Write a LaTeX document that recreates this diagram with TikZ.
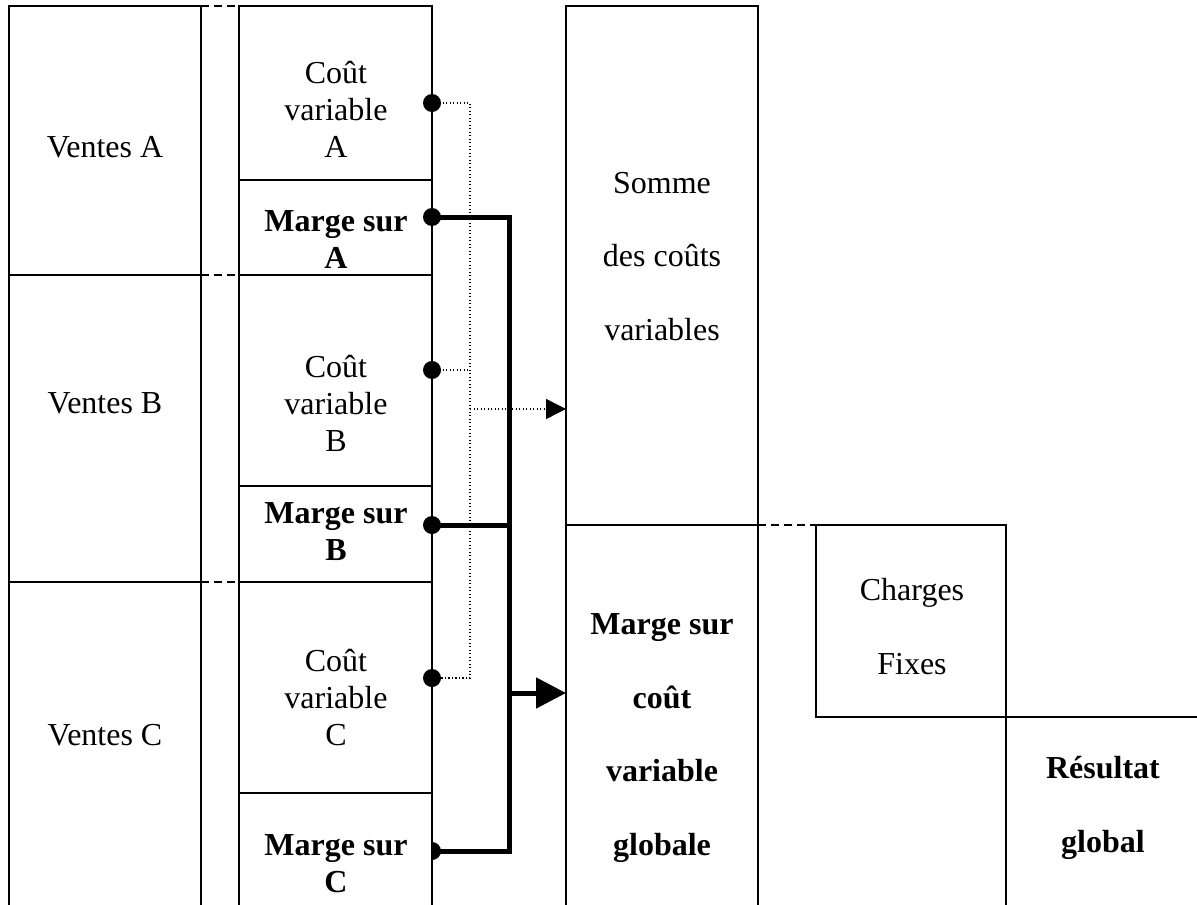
\documentclass[tikz,border=0pt]{standalone}
\usepackage{fontspec}
\setmainfont{Liberation Serif}
\usetikzlibrary{arrows.meta}
\begin{document}
\begin{tikzpicture}[x=1pt,y=-1pt,
  frame/.style={line width=1.8pt, line cap=rect},
  dashlink/.style={line width=1.8pt, dash pattern=on 8pt off 5pt},
  dotlink/.style={line width=1.4pt, dash pattern=on 1.4pt off 2.1pt},
  thicklink/.style={line width=5pt},
  bigdot/.style={fill=black},
  txt/.style={inner sep=0pt, anchor=base, align=center, font=\fontsize{32}{37}\selectfont},
  txtb/.style={txt, font=\fontsize{32}{37}\selectfont\bfseries},
  wtxt/.style={txt, font=\fontsize{32}{73.5}\selectfont},
  wtxtb/.style={txt, font=\fontsize{32}{73.5}\selectfont\bfseries},
  thintip/.style={-{Triangle[length=20pt,width=20pt]}},
  bigtip/.style={-{Triangle[length=30pt,width=30pt]}}
]
\useasboundingbox (0,0) rectangle (1197,905);

% column 1 : Ventes
\draw[frame] (9,905) -- (9,6) -- (201,6) -- (201,905);
\draw[frame] (9,275) -- (201,275);
\draw[frame] (9,582) -- (201,582);
% column 2
\draw[frame] (239,905) -- (239,6) -- (432,6) -- (432,905);
\foreach \yy in {180,275,486,582,793} \draw[frame] (239,\yy) -- (432,\yy);
% dashed links col1-col2
\foreach \yy in {6,275,582} \draw[dashlink] (201,\yy) -- (239,\yy);
% column 3
\draw[frame] (566,905) -- (566,6) -- (758,6) -- (758,905);
\draw[frame] (566,525) -- (758,525);
\draw[dashlink] (758,525) -- (816,525);
% charges fixes and result
\draw[frame] (1006,905) -- (1006,525) -- (816,525) -- (816,717) -- (1197,717);

% texts (anchor = baseline of last line)
\node[txt] (ventesA) at (105,157) {Ventes A};
\node[txt] (ventesB) at (105,413) {Ventes B};
\node[txt] (ventesC) at (105,745) {Ventes C};
\node[txt] (cvA) at (336,157) {Coût\\variable\\A};
\node[txtb] (mA) at (336,268) {Marge sur\\A};
\node[txt] (cvB) at (336,451) {Coût\\variable\\B};
\node[txtb] (mB) at (336,560) {Marge sur\\B};
\node[txt] (cvC) at (336,745) {Coût\\variable\\C};
\node[txtb] (mC) at (336,892) {Marge sur\\C};
\node[wtxt] (somme) at (662,340) {Somme\\des coûts\\variables};
\node[wtxtb] (mcv) at (662,855) {Marge sur\\coût\\variable\\globale};
\node[wtxt] (cf) at (912,674) {Charges\\Fixes};
\node[wtxtb] (res) at (1103,852) {Résultat\\global};

% connection points
\coordinate (dA) at (432,103);
\coordinate (dmA) at (432,217);
\coordinate (dB) at (432,370);
\coordinate (dmB) at (432,525);
\coordinate (dC) at (432,678);
\coordinate (dmC) at (432,851);
\coordinate (busD) at (470,409);
\coordinate (tgtS) at (566,409);
\coordinate (busT) at (509,693);
\coordinate (tgtM) at (566,693);

% dotted connectors (variable costs)
\draw[dotlink] (dA) -- (dA -| busD) -- (dC -| busD) -- (dC);
\draw[dotlink] (dB) -- (dB -| busD);
\draw[dotlink, thintip] (busD) -- (tgtS);

% thick connectors (margins)
\draw[thicklink] (dmA) -- (dmA -| busT) -- (dmC -| busT) -- (dmC);
\draw[thicklink] (dmB) -- (dmB -| busT);
\draw[thicklink, bigtip] (busT) -- (tgtM);

% dots
\fill[bigdot] (dA) circle[radius=9];
\fill[bigdot] (dmA) circle[radius=9];
\fill[bigdot] (dB) circle[radius=9];
\fill[bigdot] (dmB) circle[radius=9];
\fill[bigdot] (dC) circle[radius=9];
\begin{scope}
  \clip (432,830) rectangle (450,872);
  \fill[bigdot] (dmC) circle[radius=9];
\end{scope}
\end{tikzpicture}
\end{document}
